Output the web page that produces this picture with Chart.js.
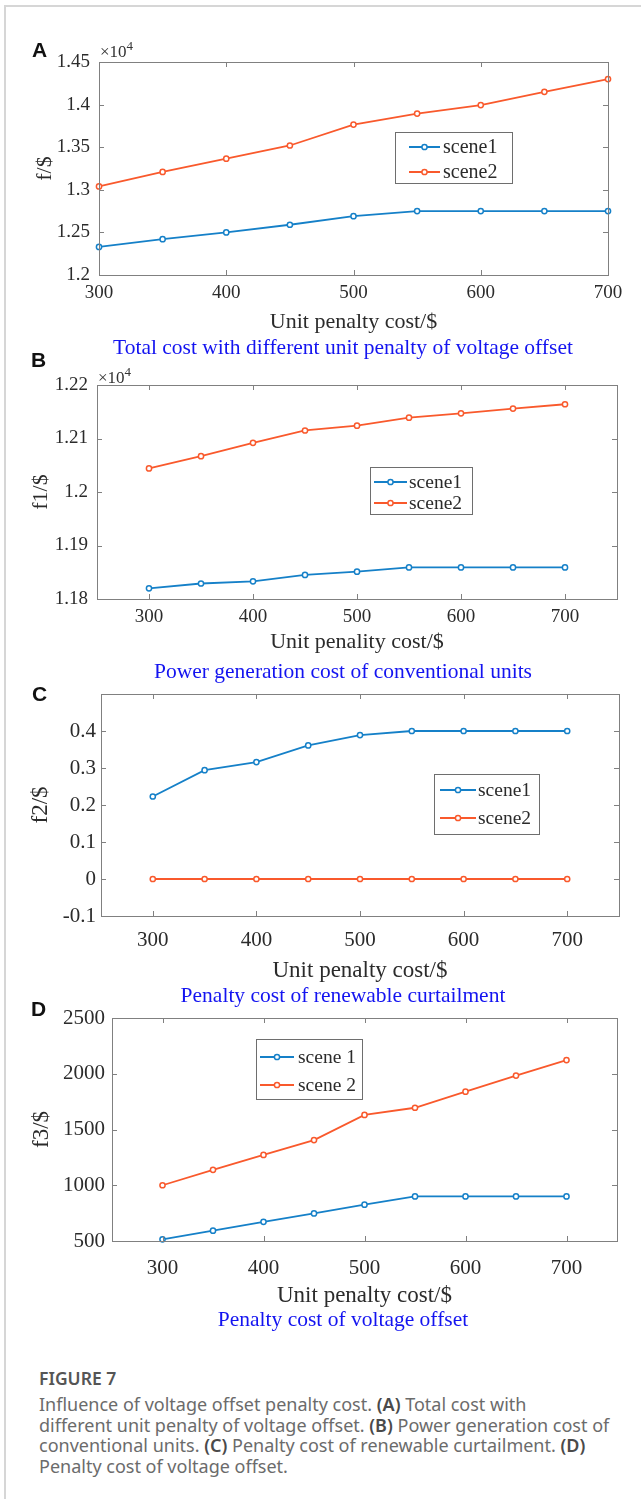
<!DOCTYPE html>
<html>
<head>
<meta charset="utf-8">
<script src="https://cdn.jsdelivr.net/npm/chart.js@4.4.1/dist/chart.umd.min.js"></script>
<style>
  body { margin: 0; background: #fff; }
  #page { position: relative; width: 641px; height: 1499px; overflow: hidden; background: #fff; }
  .frame { position: absolute; left: 4px; top: 5px; width: 650px; height: 1500px;
           border-left: 2px solid #d6d6d6; border-top: 2px solid #d6d6d6; }
  canvas.panel { position: absolute; left: 0; }
  .letter { position: absolute; font: bold 21px/21px "Liberation Sans", Arial, sans-serif; color: #111; }
  .exp { position: absolute; font: 17px/17px "Liberation Serif", "Times New Roman", serif; color: #333; white-space: nowrap; }
  .exp sup { font-size: 13px; vertical-align: 7px; line-height: 0; }
  .cap { position: absolute; left: 43px; width: 600px; text-align: center; white-space: nowrap;
         font: 21.5px/20px "Liberation Serif", "Times New Roman", serif; color: #1414f0; }
  .fig { position: absolute; left: 39px; font-family: "Noto Sans", "Open Sans", sans-serif; color: #6b6b6b; white-space: nowrap; }
  .fig b { color: #4a4a4a; font-weight: 600; }
</style>
</head>
<body>
<div id="page">
  <div class="frame"></div>

  <canvas id="chartA" class="panel" width="641" height="305" style="top:30px"></canvas>
  <canvas id="chartB" class="panel" width="641" height="320" style="top:335px"></canvas>
  <canvas id="chartC" class="panel" width="641" height="330" style="top:655px"></canvas>
  <canvas id="chartD" class="panel" width="641" height="325" style="top:985px"></canvas>

  <div class="letter" style="left:32px; top:39px">A</div>
  <div class="letter" style="left:31px; top:349px">B</div>
  <div class="letter" style="left:32px; top:683px">C</div>
  <div class="letter" style="left:31px; top:998px">D</div>

  <div class="exp" style="left:100px; top:43px">×10<sup>4</sup></div>
  <div class="exp" style="left:98px; top:369px">×10<sup>4</sup></div>

  <div class="cap" style="top:337px">Total cost with different unit penalty of voltage offset</div>
  <div class="cap" style="top:661px">Power generation cost of conventional units</div>
  <div class="cap" style="top:985px">Penalty cost of renewable curtailment</div>
  <div class="cap" style="top:1309px">Penalty cost of voltage offset</div>

  <div class="fig" style="top:1368px; font-size:17.5px; line-height:20px; font-weight:600; color:#555">FIGURE 7</div>
  <div class="fig" style="top:1394px; font-size:18px; line-height:20.5px">
    Influence of voltage offset penalty cost. <b>(A)</b> Total cost with<br>
    different unit penalty of voltage offset. <b>(B)</b> Power generation cost of<br>
    conventional units. <b>(C)</b> Penalty cost of renewable curtailment. <b>(D)</b><br>
    Penalty cost of voltage offset.
  </div>
</div>

<script>
// unit penalty cost ($) on the x axis
const unitPenalty = [300, 350, 400, 450, 500, 550, 600, 650, 700];
const xTickVals = [300, 400, 500, 600, 700];

// (A) total cost f/$
const totalScene1 = [12330, 12420, 12500, 12590, 12690, 12750, 12750, 12750, 12750];
const totalScene2 = [13040, 13210, 13365, 13520, 13765, 13895, 13995, 14150, 14300];
const yTicksA = [12000, 12500, 13000, 13500, 14000, 14500];

// (B) generation cost of conventional units f1/$
const genScene1 = [11820, 11829, 11833, 11845, 11851, 11859, 11859, 11859, 11859];
const genScene2 = [12044, 12067, 12092, 12115, 12124, 12139, 12147, 12156, 12164];
const yTicksB = [11800, 11900, 12000, 12100, 12200];

// (C) renewable curtailment penalty f2/$
const curtScene1 = [0.223, 0.294, 0.316, 0.361, 0.389, 0.4, 0.4, 0.4, 0.4];
const curtScene2 = [0, 0, 0, 0, 0, 0, 0, 0, 0];
const yTicksC = [-0.1, 0, 0.1, 0.2, 0.3, 0.4];

// (D) voltage offset penalty f3/$
const voltScene1 = [515, 593, 672, 747, 826, 900, 900, 900, 900];
const voltScene2 = [1000, 1138, 1272, 1405, 1631, 1695, 1839, 1984, 2123];
const yTicksD = [500, 1000, 1500, 2000, 2500];

const BLUE = '#1580c8';
const ORANGE = '#f9592c';
const TXT = '#2b2b2b';
const SERIF = '"Liberation Serif", "Times New Roman", serif';

function series(label, vals, color) {
  return {
    label: label,
    data: unitPenalty.map((x, i) => ({ x: x, y: vals[i] })),
    borderColor: color,
    borderWidth: 1.8,
    pointRadius: 2.6,
    pointBorderWidth: 1.5,
    pointBackgroundColor: '#fff',
    pointBorderColor: color,
    tension: 0,
    clip: false
  };
}

// MATLAB style box, inward ticks and a boxed legend
function boxPlugin(lg) {
  return {
    id: 'matBox',
    afterDraw(chart) {
      const ctx = chart.ctx;
      const a = chart.chartArea;
      const xs = chart.scales.x, ys = chart.scales.y;
      ctx.save();
      ctx.strokeStyle = '#808080';
      ctx.lineWidth = 1;
      ctx.strokeRect(Math.round(a.left) + 0.5, Math.round(a.top) + 0.5,
                     Math.round(a.width), Math.round(a.height));
      ctx.beginPath();
      xs.ticks.forEach(t => {
        const px = Math.round(xs.getPixelForValue(t.value)) + 0.5;
        ctx.moveTo(px, a.bottom); ctx.lineTo(px, a.bottom - 5);
        ctx.moveTo(px, a.top); ctx.lineTo(px, a.top + 5);
      });
      ys.ticks.forEach(t => {
        const py = Math.round(ys.getPixelForValue(t.value)) + 0.5;
        ctx.moveTo(a.left, py); ctx.lineTo(a.left + 5, py);
        ctx.moveTo(a.right, py); ctx.lineTo(a.right - 5, py);
      });
      ctx.stroke();

      // legend
      ctx.fillStyle = '#fff';
      ctx.fillRect(lg.x, lg.y, lg.w, lg.h);
      ctx.strokeStyle = '#6e6e6e';
      ctx.strokeRect(lg.x + 0.5, lg.y + 0.5, lg.w, lg.h);
      chart.data.datasets.forEach((ds, i) => {
        const y = lg.rows[i];
        ctx.strokeStyle = ds.borderColor;
        ctx.lineWidth = 2;
        ctx.beginPath();
        ctx.moveTo(lg.x1, y); ctx.lineTo(lg.x2, y);
        ctx.stroke();
        ctx.lineWidth = 1.5;
        ctx.beginPath();
        ctx.arc((lg.x1 + lg.x2) / 2, y, 2.6, 0, Math.PI * 2);
        ctx.fillStyle = '#fff';
        ctx.fill();
        ctx.stroke();
        ctx.fillStyle = TXT;
        ctx.font = lg.font + 'px ' + SERIF;
        ctx.textAlign = 'left';
        ctx.textBaseline = 'middle';
        ctx.fillText(ds.label, lg.tx, y + 1);
      });
      ctx.restore();
    }
  };
}

function panel(id, s1, s2, names, o) {
  return new Chart(document.getElementById(id), {
    type: 'line',
    data: { datasets: [series(names[0], s1, BLUE), series(names[1], s2, ORANGE)] },
    options: {
      responsive: false,
      animation: false,
      devicePixelRatio: 1,
      layout: { padding: { left: 0, right: o.padRight, top: o.padTop, bottom: 0 } },
      plugins: { legend: { display: false }, tooltip: { enabled: false } },
      scales: {
        x: {
          type: 'linear', min: o.xMin, max: o.xMax,
          grid: { display: false, drawTicks: false },
          border: { display: false },
          afterBuildTicks: s => { s.ticks = xTickVals.map(v => ({ value: v })); },
          ticks: { autoSkip: false, maxRotation: 0, includeBounds: false, padding: o.xTickPad,
                   color: TXT, font: { family: SERIF, size: o.tickSize } },
          title: { display: true, text: o.xTitle, color: TXT,
                   font: { family: SERIF, size: o.titleSize }, padding: { top: o.xTitlePad, bottom: 0 } },
          afterFit: s => { s.height = o.xAxisH; }
        },
        y: {
          type: 'linear', min: o.yMin, max: o.yMax,
          grid: { display: false, drawTicks: false },
          border: { display: false },
          afterBuildTicks: s => { s.ticks = o.yTicks.map(v => ({ value: v })); },
          ticks: { autoSkip: false, padding: o.yTickPad, color: TXT,
                   font: { family: SERIF, size: o.tickSize }, callback: o.yFmt },
          title: { display: true, text: o.yTitle, color: TXT,
                   font: { family: SERIF, size: o.titleSize }, padding: { top: o.yTitlePad, bottom: 0 } },
          afterFit: s => { s.width = o.yAxisW; }
        }
      }
    },
    plugins: [boxPlugin(o.legend)]
  });
}

const e4 = v => String(+(v / 1e4).toFixed(3));

panel('chartA', totalScene1, totalScene2, ['scene1', 'scene2'], {
  xMin: 300, xMax: 700, yMin: 12000, yMax: 14500, yTicks: yTicksA, yFmt: e4,
  padTop: 32, padRight: 33, yAxisW: 99, xAxisH: 60,
  tickSize: 19, titleSize: 22, xTickPad: 7, yTickPad: 9, xTitlePad: 2, yTitlePad: 32,
  xTitle: 'Unit penalty cost/$', yTitle: 'f/$',
  legend: { x: 395, y: 102, w: 117, h: 51, rows: [117, 142], x1: 409, x2: 440, tx: 443, font: 20 }
});

panel('chartB', genScene1, genScene2, ['scene1', 'scene2'], {
  xMin: 250, xMax: 750, yMin: 11800, yMax: 12200, yTicks: yTicksB, yFmt: e4,
  padTop: 50, padRight: 24, yAxisW: 97, xAxisH: 56,
  tickSize: 19, titleSize: 22, xTickPad: 7, yTickPad: 9, xTitlePad: 1, yTitlePad: 28,
  xTitle: 'Unit penality cost/$', yTitle: 'f1/$',
  legend: { x: 370, y: 132, w: 102, h: 47, rows: [147, 168], x1: 374, x2: 407, tx: 409, font: 19.5 }
});

panel('chartC', curtScene1, curtScene2, ['scene1', 'scene2'], {
  xMin: 250, xMax: 750, yMin: -0.1, yMax: 0.5, yTicks: yTicksC,
  yFmt: v => (Math.abs(v) < 1e-9 ? '0' : v.toFixed(1)),
  padTop: 39, padRight: 22, yAxisW: 101, xAxisH: 69,
  tickSize: 21, titleSize: 23, xTickPad: 12, yTickPad: 5, xTitlePad: 9, yTitlePad: 27,
  xTitle: 'Unit penalty cost/$', yTitle: 'f2/$',
  legend: { x: 434, y: 119, w: 105, h: 60, rows: [135, 163], x1: 440, x2: 476, tx: 478, font: 19.5 }
});

panel('chartD', voltScene1, voltScene2, ['scene 1', 'scene 2'], {
  xMin: 250, xMax: 750, yMin: 500, yMax: 2500, yTicks: yTicksD, yFmt: v => String(v),
  padTop: 33, padRight: 24, yAxisW: 112, xAxisH: 69,
  tickSize: 21, titleSize: 23, xTickPad: 15, yTickPad: 7, xTitlePad: 3, yTitlePad: 28,
  xTitle: 'Unit penalty cost/$', yTitle: 'f3/$',
  legend: { x: 256, y: 54, w: 106, h: 60, rows: [72, 100], x1: 260, x2: 294, tx: 298, font: 19.5 }
});
</script>
</body>
</html>
